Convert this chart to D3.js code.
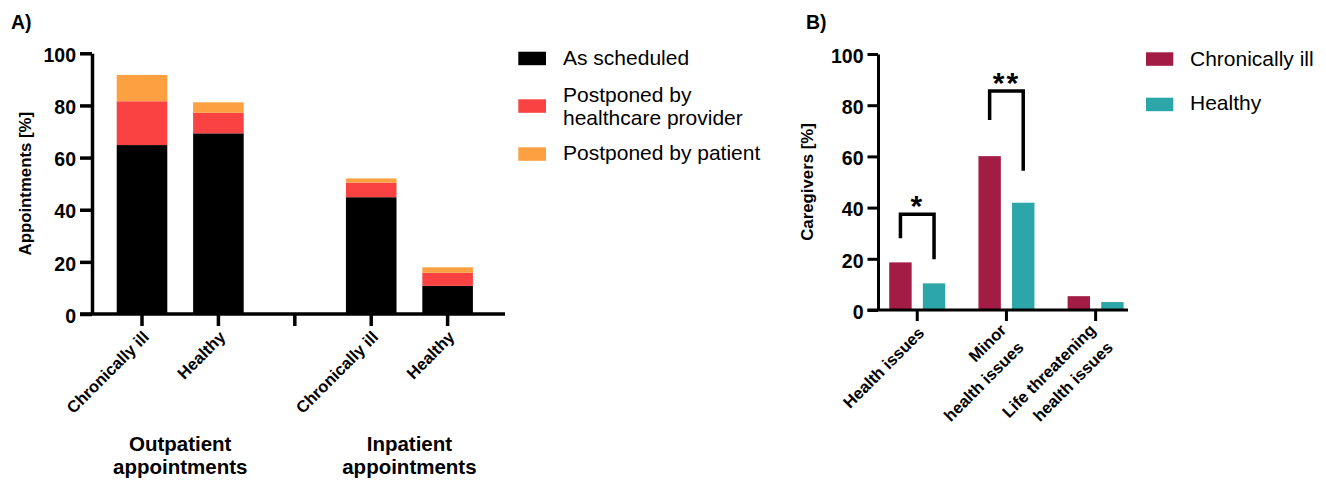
<!DOCTYPE html>
<html>
<head>
<meta charset="utf-8">
<script src="https://cdn.jsdelivr.net/npm/d3@7"></script>
<style>
  html, body { margin: 0; padding: 0; background: #fff; }
  svg { display: block; }
  text { font-family: "Liberation Sans", Arial, Helvetica, sans-serif; fill: #000; }
</style>
</head>
<body>
<svg id="chart" width="1326" height="482"></svg>
<script>
// ---------- Panel A: appointments (stacked bars) ----------
const slotsA = ["outChronic", "outHealthy", "spacer", "inChronic", "inHealthy"];
const slotLabelsA = ["Chronically ill", "Healthy", "", "Chronically ill", "Healthy"];
const groupLabelsA = [["Outpatient", "appointments"], ["Inpatient", "appointments"]];
const groupSlotsA = [["outChronic", "outHealthy"], ["inChronic", "inHealthy"]];
const seriesA = ["As scheduled", "Postponed by healthcare provider", "Postponed by patient"];
const legendLinesA = [["As scheduled"], ["Postponed by", "healthcare provider"], ["Postponed by patient"]];
const asScheduled = [64.8, 69.3, 0, 44.8, 10.8];
const byProvider  = [16.8, 7.9, 0, 5.6, 5.0];
const byPatient   = [10.1, 4.0, 0, 1.6, 2.1];
const colorsA = ["#000000", "#fa4242", "#fda042"];
const yTicks = [0, 20, 40, 60, 80, 100];

// ---------- Panel B: caregivers (grouped bars) ----------
const categoriesB = [["Health issues"], ["Minor", "health issues"], ["Life threatening", "health issues"]];
const seriesB = ["Chronically ill", "Healthy"];
const chronicallyIll = [18.6, 60.1, 5.4];
const healthy = [10.4, 41.9, 3.1];
const colorsB = ["#a31c45", "#2ca6a8"];
// significance brackets (in axis units): category index, top, left leg end, right leg end, label
const sigCategory = [0, 1];
const sigTop = [37.4, 85.5];
const sigLeftEnd = [28.0, 74.2];
const sigRightEnd = [19.8, 54.4];
const sigLabel = ["*", "**"];

const svg = d3.select("#chart");
svg.append("rect").attr("width", 1326).attr("height", 482).attr("fill", "#fff");

const tickFont = "19.5px";

// ================= Panel A =================
const axA = { x0: 92, x1: 501, y0: 314, y1: 53.3 };
const yA = d3.scaleLinear().domain([0, 100]).range([axA.y0, axA.y1]);
const xA = d3.scaleBand().domain(slotsA).range([axA.x0, axA.x1])
  .paddingInner(0.338).paddingOuter(0.3456).align(0.468);

const rowsA = slotsA.map((k, i) => ({
  slot: k,
  [seriesA[0]]: asScheduled[i],
  [seriesA[1]]: byProvider[i],
  [seriesA[2]]: byPatient[i]
}));
const stackA = d3.stack().keys(seriesA)(rowsA);

const gA = svg.append("g");
gA.selectAll("g.layer").data(stackA).join("g")
  .attr("class", "layer")
  .attr("fill", (d, i) => colorsA[i])
  .selectAll("rect").data(d => d.filter(p => p[1] > p[0])).join("rect")
  .attr("x", d => xA(d.data.slot))
  .attr("width", xA.bandwidth())
  .attr("y", d => yA(d[1]))
  .attr("height", d => yA(d[0]) - yA(d[1]));

// y axis
const yAxisA = gA.append("g").attr("transform", `translate(${axA.x0},0)`)
  .call(d3.axisLeft(yA).tickValues(yTicks).tickSize(12).tickSizeOuter(0).tickPadding(4));
yAxisA.attr("font-family", null);
yAxisA.select(".domain").attr("stroke-width", 3.5);
yAxisA.selectAll(".tick line").attr("stroke-width", 3.5);
yAxisA.selectAll(".tick text").attr("font-size", tickFont).attr("font-weight", "bold")
  .attr("dy", "0.42em");

// x axis line + ticks
gA.append("line")
  .attr("x1", axA.x0 - 12).attr("x2", xA.range()[1] + 4)
  .attr("y1", axA.y0).attr("y2", axA.y0)
  .attr("stroke", "#000").attr("stroke-width", 3.5);
gA.selectAll("line.xtick").data(slotsA).join("line")
  .attr("class", "xtick")
  .attr("x1", d => xA(d) + xA.bandwidth() / 2).attr("x2", d => xA(d) + xA.bandwidth() / 2)
  .attr("y1", axA.y0).attr("y2", axA.y0 + 12)
  .attr("stroke", "#000").attr("stroke-width", 3.5);

// rotated category labels
const rotLabelDx = 8, rotLabelDy = 24;
gA.selectAll("text.xlab").data(slotsA.map((s, i) => ({ s, t: slotLabelsA[i] })).filter(d => d.t))
  .join("text")
  .attr("class", "xlab")
  .attr("transform", d => `translate(${xA(d.s) + xA.bandwidth() / 2 + rotLabelDx},${axA.y0 + rotLabelDy}) rotate(-45)`)
  .attr("text-anchor", "end")
  .attr("font-size", "16.5px").attr("font-weight", "bold")
  .text(d => d.t);

// group labels
groupLabelsA.forEach((lines, gi) => {
  const cx = d3.mean(groupSlotsA[gi], s => xA(s) + xA.bandwidth() / 2);
  const t = gA.append("text").attr("text-anchor", "middle")
    .attr("font-size", "20.5px").attr("font-weight", "bold");
  lines.forEach((ln, li) => {
    t.append("tspan").attr("x", cx).attr("y", 451 + li * 23).text(ln);
  });
});

// y title
gA.append("text")
  .attr("transform", `translate(31,${(axA.y0 + axA.y1) / 2}) rotate(-90)`)
  .attr("text-anchor", "middle").attr("font-size", "16.8px").attr("font-weight", "bold")
  .text("Appointments [%]");

// panel tag
gA.append("text").attr("x", 11).attr("y", 29)
  .attr("font-size", "19.5px").attr("font-weight", "bold").text("A)");

// legend
const legA = gA.append("g");
const legAy = [65, 101.7, 160];   // first baseline of each entry
const legASq = [51.7, 99.3, 147.3];
legendLinesA.forEach((lines, i) => {
  legA.append("rect").attr("x", 518.3).attr("y", legASq[i])
    .attr("width", 27.7).attr("height", 13.5).attr("fill", colorsA[i]);
  const t = legA.append("text").attr("font-size", "21px");
  lines.forEach((ln, li) => t.append("tspan").attr("x", 563).attr("y", legAy[i] + li * 23.5).text(ln));
});

// ================= Panel B =================
const axB = { x0: 878, x1: 1128, y0: 310, y1: 54 };
const yB = d3.scaleLinear().domain([0, 100]).range([axB.y0, axB.y1]);
const catKeysB = categoriesB.map(d => d.join(" "));
const x0B = d3.scaleBand().domain(catKeysB).range([axB.x0, axB.x1])
  .paddingInner(0.372).paddingOuter(0.0875).align(0.72);
const x1B = d3.scaleBand().domain(seriesB).range([0, x0B.bandwidth()]).paddingInner(0.333);

const rowsB = catKeysB.map((k, i) => ({ key: k, values: [chronicallyIll[i], healthy[i]] }));

const gB = svg.append("g");
gB.selectAll("g.cat").data(rowsB).join("g")
  .attr("class", "cat")
  .attr("transform", d => `translate(${x0B(d.key)},0)`)
  .selectAll("rect").data(d => d.values.map((v, i) => ({ s: seriesB[i], v, i }))).join("rect")
  .attr("x", d => x1B(d.s))
  .attr("width", x1B.bandwidth())
  .attr("y", d => yB(d.v))
  .attr("height", d => yB(0) - yB(d.v))
  .attr("fill", d => colorsB[d.i]);

const yAxisB = gB.append("g").attr("transform", `translate(${axB.x0},0)`)
  .call(d3.axisLeft(yB).tickValues(yTicks).tickSize(10.5).tickSizeOuter(0).tickPadding(4));
yAxisB.attr("font-family", null);
yAxisB.select(".domain").attr("stroke-width", 3);
yAxisB.selectAll(".tick line").attr("stroke-width", 3);
yAxisB.selectAll(".tick text").attr("font-size", tickFont).attr("font-weight", "bold").attr("dy", "0.42em");

gB.append("line")
  .attr("x1", axB.x0 - 10.5).attr("x2", axB.x1)
  .attr("y1", axB.y0).attr("y2", axB.y0)
  .attr("stroke", "#000").attr("stroke-width", 3);
gB.selectAll("line.xtick").data(catKeysB).join("line")
  .attr("class", "xtick")
  .attr("x1", d => x0B(d) + x0B.bandwidth() / 2).attr("x2", d => x0B(d) + x0B.bandwidth() / 2)
  .attr("y1", axB.y0).attr("y2", axB.y0 + 11)
  .attr("stroke", "#000").attr("stroke-width", 3);

// rotated, possibly two-line labels (right-aligned lines)
categoriesB.forEach((lines, ci) => {
  const cx = x0B(catKeysB[ci]) + x0B.bandwidth() / 2;
  const t = gB.append("text")
    .attr("transform", `translate(${cx + rotLabelDx},${axB.y0 + rotLabelDy}) rotate(-45)`)
    .attr("text-anchor", "end").attr("font-size", "16.5px").attr("font-weight", "bold");
  const start = lines.length > 1 ? -7 : 0;
  lines.forEach((ln, li) => t.append("tspan").attr("x", -3 * (lines.length - 1)).attr("y", start + li * 24.5).text(ln));
});

// significance brackets
sigCategory.forEach((ci, k) => {
  const key = catKeysB[ci];
  const xl = x0B(key) + x1B(seriesB[0]) + x1B.bandwidth() / 2;
  const xr = x0B(key) + x1B(seriesB[1]) + x1B.bandwidth() / 2;
  const path = d3.path();
  path.moveTo(xl, yB(sigLeftEnd[k]));
  path.lineTo(xl, yB(sigTop[k]));
  path.lineTo(xr, yB(sigTop[k]));
  path.lineTo(xr, yB(sigRightEnd[k]));
  gB.append("path").attr("d", path.toString())
    .attr("fill", "none").attr("stroke", "#000").attr("stroke-width", 3.5);
  gB.append("text").attr("x", (xl + xr) / 2).attr("y", yB(sigTop[k]) + 2)
    .attr("text-anchor", "middle").attr("font-size", "30px").attr("font-weight", "bold")
    .attr("letter-spacing", "2px")
    .text(sigLabel[k]);
});

gB.append("text")
  .attr("transform", `translate(813,${(axB.y0 + axB.y1) / 2}) rotate(-90)`)
  .attr("text-anchor", "middle").attr("font-size", "16.8px").attr("font-weight", "bold")
  .text("Caregivers [%]");

gB.append("text").attr("x", 806).attr("y", 29)
  .attr("font-size", "19.5px").attr("font-weight", "bold").text("B)");

const legBSq = [52.3, 97.7];
const legBy = [66, 110];
seriesB.forEach((s, i) => {
  gB.append("rect").attr("x", 1146).attr("y", legBSq[i])
    .attr("width", 27.3).attr("height", 13.5).attr("fill", colorsB[i]);
  gB.append("text").attr("x", 1190).attr("y", legBy[i]).attr("font-size", "21px").text(s);
});
</script>
</body>
</html>
